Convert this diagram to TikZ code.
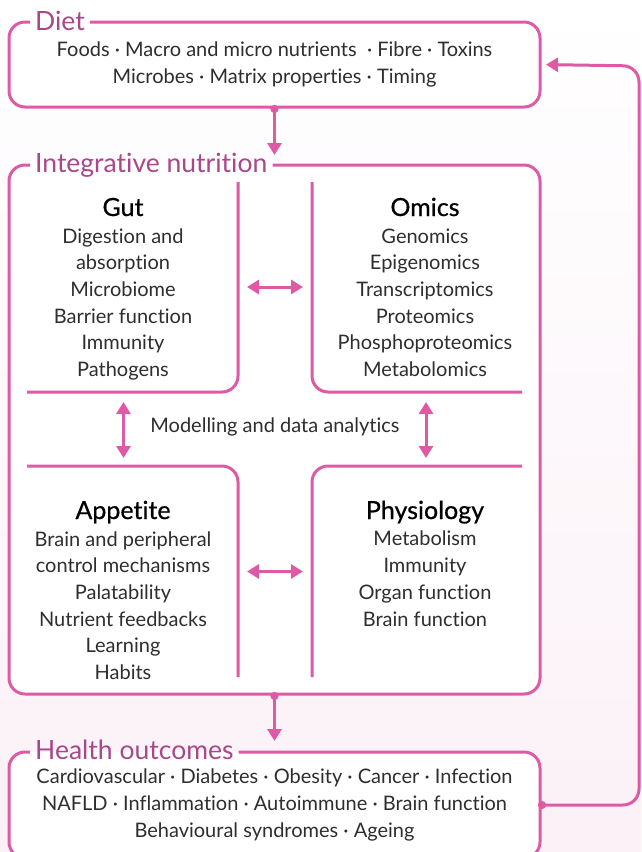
\documentclass[tikz,border=0pt]{standalone}
\usepackage{fontspec}
\setmainfont{Lato}[Ligatures=NoCommon]
\newfontfamily\headfont{Lato}[FakeBold=0.6,Ligatures=NoCommon]
\usetikzlibrary{arrows.meta}

\definecolor{rose}{HTML}{DE5AA5}
\definecolor{plum}{HTML}{A8478A}
\definecolor{ink}{HTML}{2E2E2E}
\definecolor{blush}{HTML}{FBF1F7}

\newcommand\itemsize{\fontsize{20}{26.7}\selectfont}
\newcommand\headsize{\fontsize{25}{28}\selectfont}
\newcommand\titlesize{\fontsize{26.5}{30}\selectfont}

\tikzset{
    frame/.style={line width=3pt, draw=rose, rounded corners=16pt},
    box/.style={fill=white, rounded corners=16pt, minimum width=531pt, inner sep=0pt, outer sep=0pt,
        align=center, text=ink, font=\itemsize},
    quad/.style={inner sep=0pt, outer sep=0pt},
    title/.style={anchor=base west, inner sep=5pt, text=plum, font=\titlesize},
    head/.style={anchor=base, inner sep=0pt, text=black, font=\headsize\headfont},
    items/.style={align=center, inner sep=0pt, text=ink, font=\itemsize},
    flow/.style={line width=3pt, draw=rose, {Circle[length=8pt]}-{Triangle[length=12pt,width=14pt]}},
    dbl/.style={line width=3pt, draw=rose, {Triangle[length=12pt,width=14pt]}-{Triangle[length=12pt,width=14pt]}}
}

\begin{document}
\begin{tikzpicture}[x=1pt,y=-1pt]

        \shade[top color=white, bottom color=blush] (0,0) rectangle (641,852);
        \useasboundingbox (0,0) rectangle (641,852);

        % the three main boxes
        \node[box, minimum height=85pt] (diet) at (274.5,64.5)
            {Foods · Macro and micro nutrients \ · Fibre · Toxins\\ Microbes · Matrix properties · Timing};
        \node[box, minimum height=529pt] (integ) at (274.5,429.5) {};
        \node[box, minimum height=106pt] (health) at (274.5,805)
            {Cardiovascular · Diabetes · Obesity · Cancer · Infection\\
             NAFLD · Inflammation · Autoimmune · Brain function\\
             Behavioural syndromes · Ageing};

        \node[title] (diettitle) at (30,30) {Diet};
        \node[title] (integtitle) at (30,172) {Integrative nutrition};
        \node[title] (healthtitle) at (30,759) {Health outcomes};

        \draw[frame] (diettitle.east |- diet.north) -- (diet.north east) -- (diet.south east)
            -- (diet.south west) -- (diet.north west) -- (diettitle.west |- diet.north);
        \draw[frame] (integtitle.east |- integ.north) -- (integ.north east) -- (integ.south east)
            -- (integ.south west) -- (integ.north west) -- (integtitle.west |- integ.north);
        \draw[frame] (healthtitle.east |- health.north) -- (health.north east) -- (health.south east)
            -- (health.south west) -- (health.north west) -- (healthtitle.west |- health.north);

        % four quarters inside
        \node[quad, minimum width=229pt, minimum height=210pt] (gutframe) at (123.5,287) {};
        \node[quad, minimum width=228pt, minimum height=210pt] (omicsframe) at (426,287) {};
        \node[quad, minimum width=229pt, minimum height=211pt] (appframe) at (123.5,571.5) {};
        \node[quad, minimum width=228pt, minimum height=211pt] (physframe) at (426,571.5) {};

        \draw[frame] (gutframe.north east) -- (gutframe.south east) -- ([xshift=18pt]gutframe.south west);
        \draw[frame] (omicsframe.north west) -- (omicsframe.south west) -- ([xshift=-18pt]omicsframe.south east);
        \draw[frame] (appframe.south east) -- (appframe.north east) -- ([xshift=18pt]appframe.north west);
        \draw[frame] (physframe.south west) -- (physframe.north west) -- ([xshift=-18pt]physframe.north east);

        % lists sit on the baseline of their last line
        \node[head] (gut) at (123,216) {Gut};
        \node[items, anchor=base] (gutlist) at (123,376.5)
            {Digestion and\\ absorption\\ Microbiome\\ Barrier function\\ Immunity\\ Pathogens};
        \node[head] (omics) at (425,216) {Omics};
        \node[items, anchor=base] (omicslist) at (425,376.5)
            {Genomics\\ Epigenomics\\ Transcriptomics\\ Proteomics\\ Phosphoproteomics\\ Metabolomics};
        \node[head] (appetite) at (123,519) {Appetite};
        \node[items, anchor=base] (appetitelist) at (123,679.5)
            {Brain and peripheral\\ control mechanisms\\ Palatability\\ Nutrient feedbacks\\ Learning\\ Habits};
        \node[head] (physio) at (425,519) {Physiology};
        \node[items, anchor=base] (physiolist) at (425,626)
            {Metabolism\\ Immunity\\ Organ function\\ Brain function};

        \node[items] (model) at (275,427) {Modelling and data analytics};

        % arrows between the quarters
        \draw[dbl] ([xshift=9pt]gutframe.east) -- ([xshift=-9pt]omicsframe.west);
        \draw[dbl] ([xshift=9pt]appframe.east) -- ([xshift=-9pt]physframe.west);
        \draw[dbl] ([yshift=-10pt]gutframe.south) -- ([yshift=8pt]appframe.north);
        \draw[dbl] ([yshift=-10pt]omicsframe.south) -- ([yshift=8pt]physframe.north);

        % flow down and back up
        \coordinate (backtop) at (639,66);
        \draw[flow, shorten <=-2pt, shorten >=10pt] (diet.south) -- (integ.north);
        \draw[flow, shorten <=-2pt, shorten >=11pt] (integ.south) -- (health.north);
        \draw[flow, rounded corners=16pt, shorten <=-2pt, shorten >=6pt] (health.east) -| (backtop) -- (diet.east);

\end{tikzpicture}
\end{document}
